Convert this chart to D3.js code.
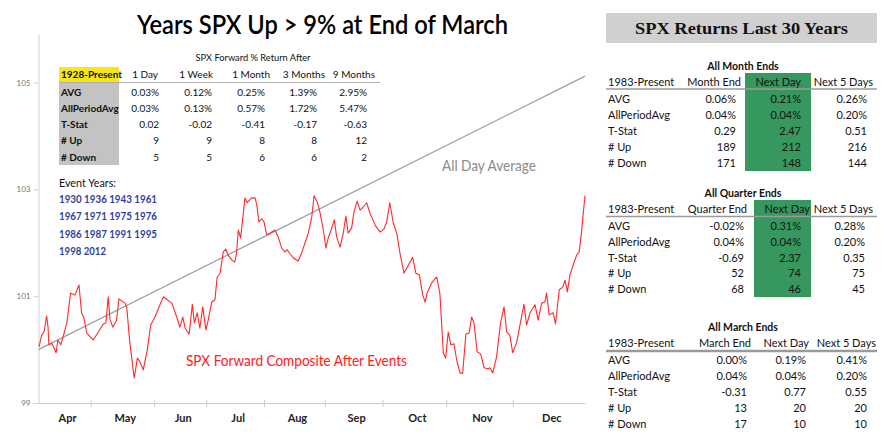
<!DOCTYPE html>
<html>
<head>
<meta charset="utf-8">
<script src="https://cdn.jsdelivr.net/npm/d3@7/dist/d3.min.js"></script>
<style>
  body { margin: 0; background: #fff; }
  text { font-family: Lato, "Open Sans", sans-serif; }
</style>
</head>
<body>
<script>
var svgWidth = 888;
var svgHeight = 447;

// ---- chart data ----
var months = ["Apr", "May", "Jun", "Jul", "Aug", "Sep", "Oct", "Nov", "Dec"];
var monthBreaks = [0, 18, 40, 58, 78, 99, 119, 141, 164, 189]; // trading-day index of month boundaries
var yTicks = [99, 101, 103, 105];

var compDays = [0.2, 1.1, 1.9, 2.8, 3.3, 3.6, 4.6, 6.1, 6.7, 7.7, 8.5, 9.8, 11.1, 12.6, 14.0, 14.9, 15.7, 16.7,
    18.9, 20.7, 22.4, 23.3, 24.1, 24.7, 25.7, 27.0, 27.8, 29.9, 30.5, 31.6, 33.1, 34.2, 35.1, 36.2, 37.6, 38.8,
    40.3, 42.0, 43.2, 46.1, 47.8, 48.9, 49.9, 50.7, 52.1, 53.2, 53.9, 54.9, 55.8, 56.8, 57.9, 58.7, 59.9, 61.0,
    61.8, 62.8, 63.9, 64.8, 65.6, 66.8, 67.9, 68.5, 69.1, 69.9, 71.4, 72.2, 73.7, 74.9, 75.5, 76.2, 77.2, 78.0,
    78.9, 80.0, 81.8, 82.9, 84.1, 85.2, 86.0, 87.0, 88.1, 89.8, 91.0, 92.2, 93.3, 94.5, 95.3, 96.4, 97.3, 98.5,
    99.4, 100.2, 101.4, 102.3, 103.1, 104.3, 105.4, 106.3, 107.1, 108.3, 109.1, 110.2, 111.2, 112.3, 113.5, 114.6,
    116.4, 118.1, 119.5, 120.4, 121.5, 122.7, 123.9, 125.0, 126.4, 127.9, 129.4, 130.5, 131.7, 132.9, 133.7, 134.4,
    136.0, 137.7, 138.8, 140.0, 140.8, 141.7, 142.6, 143.7, 144.6, 145.8, 146.7, 147.8, 148.9, 149.8, 150.6, 151.7,
    152.9, 154.1, 155.5, 156.1, 157.1, 158.4, 159.8, 161.0, 161.9, 163.0, 164.0, 165.4, 166.5, 167.9, 168.8, 170.0,
    171.7, 172.8, 174.0, 175.1, 175.7, 176.6, 178.0, 178.8, 180.1, 181.3, 182.1, 182.9, 183.8, 184.9, 186.1, 187.0,
    187.8, 188.4, 189.0];
var compValues = [100.05, 100.27, 100.33, 100.63, 100.42, 100.09, 100.12, 99.94, 100.18, 100.09, 100.24, 100.50,
    101.06, 101.02, 101.21, 100.69, 100.59, 100.31, 100.18, 100.33, 100.48, 100.50, 100.99, 100.57, 100.42, 100.55,
    100.95, 100.87, 100.80, 100.12, 99.47, 99.84, 99.77, 99.62, 99.99, 100.46, 100.61, 100.84, 100.99, 100.87,
    100.61, 100.42, 100.61, 100.40, 100.29, 100.85, 100.50, 100.69, 100.40, 100.80, 100.37, 100.55, 100.89, 100.93,
    101.36, 101.43, 101.83, 101.88, 101.77, 101.68, 101.64, 101.81, 102.24, 102.09, 102.84, 102.75, 102.84, 102.84,
    102.71, 102.39, 102.45, 102.39, 102.15, 102.18, 102.24, 102.11, 101.90, 101.83, 101.87, 101.79, 101.72, 101.66,
    101.81, 102.00, 102.18, 102.48, 102.88, 102.76, 102.58, 102.24, 101.90, 102.09, 102.28, 102.43, 102.11, 101.92,
    102.18, 102.50, 102.18, 102.28, 102.58, 102.78, 102.61, 102.67, 102.75, 102.56, 102.33, 102.20, 102.26, 102.39,
    102.75, 102.37, 102.18, 101.81, 101.43, 101.58, 101.73, 101.43, 101.40, 101.02, 100.89, 101.06, 101.25, 101.36,
    101.06, 99.94, 99.84, 100.33, 100.09, 100.11, 99.81, 99.56, 99.56, 100.29, 100.31, 100.61, 100.50, 99.96,
    99.92, 99.66, 99.64, 99.66, 99.56, 99.86, 100.50, 100.80, 100.33, 100.27, 99.94, 100.14, 100.46, 100.85,
    100.46, 100.69, 100.84, 100.55, 100.87, 100.89, 101.06, 100.65, 100.69, 100.48, 101.12, 101.17, 101.30, 101.08,
    101.40, 101.58, 101.77, 101.83, 102.20, 102.56, 102.88];

var avgDays = [0, 189];
var avgValues = [100.0, 105.12];

var eventYears = ["1930 1936 1943 1961", "1967 1971 1975 1976", "1986 1987 1991 1995", "1998 2012"];

// ---- table data ----
var rowLabels = ["AVG", "AllPeriodAvg", "T-Stat", "# Up", "# Down"];

var fwdCols = ["1 Day", "1 Week", "1 Month", "3 Months", "9 Months"];
var fwdVals = [
    ["0.03%", "0.12%", "0.25%", "1.39%", "2.95%"],
    ["0.03%", "0.13%", "0.57%", "1.72%", "5.47%"],
    ["0.02", "-0.02", "-0.41", "-0.17", "-0.63"],
    ["9", "9", "8", "8", "12"],
    ["5", "5", "6", "6", "2"]
];

var monthCols = ["Month End", "Next Day", "Next 5 Days"];
var monthVals = [
    ["0.06%", "0.21%", "0.26%"],
    ["0.04%", "0.04%", "0.20%"],
    ["0.29", "2.47", "0.51"],
    ["189", "212", "216"],
    ["171", "148", "144"]
];

var quarterCols = ["Quarter End", "Next Day", "Next 5 Days"];
var quarterVals = [
    ["-0.02%", "0.31%", "0.28%"],
    ["0.04%", "0.04%", "0.20%"],
    ["-0.69", "2.37", "0.35"],
    ["52", "74", "75"],
    ["68", "46", "45"]
];

var marchCols = ["March End", "Next Day", "Next 5 Days"];
var marchVals = [
    ["0.00%", "0.19%", "0.41%"],
    ["0.04%", "0.04%", "0.20%"],
    ["-0.31", "0.77", "0.55"],
    ["13", "20", "20"],
    ["17", "10", "10"]
];

var svg = d3.select("body")
    .append("svg")
    .attr("width", svgWidth)
    .attr("height", svgHeight);

// ---- left chart ----
var plot = { left: 38.5, right: 585, top: 34.5, bottom: 403 };

var xScale = d3.scaleLinear()
    .domain([0, 189])
    .range([plot.left, plot.right]);

var yScale = d3.scaleLinear()
    .domain([99, 105.9])
    .range([plot.bottom, plot.top]);

svg.append("text")
    .attr("x", 137)
    .attr("y", 34)
    .attr("textLength", 371)
    .attr("lengthAdjust", "spacingAndGlyphs")
    .style("font-size", "26px")
    .style("font-weight", "600")
    .style("fill", "#000")
    .text("Years SPX Up > 9% at End of March");

// y axis
var yAxis = svg.append("g")
    .attr("transform", `translate(${plot.left}, 0)`)
    .call(d3.axisLeft(yScale).tickValues(yTicks).tickFormat(d3.format("d"))
        .tickSize(5).tickSizeOuter(0).tickPadding(3));
yAxis.select(".domain").attr("stroke", "#c9cfd9");
yAxis.selectAll(".tick line").attr("stroke", "#c9cfd9");
yAxis.selectAll(".tick text")
    .style("font-size", "8px")
    .style("fill", "#777")
    .style("font-family", "Lato, sans-serif");

// x axis (month boundaries)
var xAxis = svg.append("g")
    .attr("transform", `translate(0, ${plot.bottom})`)
    .call(d3.axisBottom(xScale).tickValues(monthBreaks.slice(1, -1)).tickFormat("").tickSize(4).tickSizeOuter(0));
xAxis.select(".domain").attr("stroke", "#c9cfd9");
xAxis.selectAll(".tick line").attr("stroke", "#c9cfd9").attr("y1", -3);

svg.append("g").selectAll("text")
    .data(months)
    .enter()
    .append("text")
    .attr("x", (d, i) => xScale((monthBreaks[i] + monthBreaks[i + 1]) / 2) + 3)
    .attr("y", 422)
    .attr("text-anchor", "middle")
    .style("font-size", "11px")
    .style("font-weight", "bold")
    .style("fill", "#222")
    .text(d => d);

// lines
var avgLine = d3.line()
    .x(d => xScale(d[0]))
    .y(d => yScale(d[1]));

svg.append("path")
    .datum(d3.zip(avgDays, avgValues))
    .attr("d", avgLine)
    .attr("fill", "none")
    .attr("stroke", "#9a9fa6")
    .attr("stroke-width", 1.2);

svg.append("path")
    .datum(d3.zip(compDays, compValues))
    .attr("d", avgLine)
    .attr("fill", "none")
    .attr("stroke", "#ff2a2a")
    .attr("stroke-width", 1.1)
    .attr("stroke-linejoin", "round");

svg.append("text")
    .attr("x", 442)
    .attr("y", 171)
    .attr("textLength", 94)
    .attr("lengthAdjust", "spacingAndGlyphs")
    .style("font-size", "15px")
    .style("fill", "#8c8c8c")
    .text("All Day Average");

svg.append("text")
    .attr("x", 186)
    .attr("y", 366)
    .attr("textLength", 221)
    .attr("lengthAdjust", "spacingAndGlyphs")
    .style("font-size", "15px")
    .style("fill", "#ff2020")
    .text("SPX Forward Composite After Events");

// event years
svg.append("text")
    .attr("x", 59)
    .attr("y", 187)
    .attr("textLength", 57)
    .attr("lengthAdjust", "spacingAndGlyphs")
    .style("font-size", "12px")
    .style("fill", "#111")
    .text("Event Years:");

svg.append("g").selectAll("text")
    .data(eventYears)
    .enter()
    .append("text")
    .attr("x", 59)
    .attr("y", (d, i) => 203 + i * 17.3)
    .attr("textLength", d => d.length > 10 ? 98 : 47)
    .attr("lengthAdjust", "spacingAndGlyphs")
    .style("font-size", "11.5px")
    .style("font-weight", "bold")
    .style("fill", "#2f3f9e")
    .text(d => d);

// forward return table inside the chart
var fwd = svg.append("g");
var fwdRowY = [96, 112, 128, 144, 161];
var fwdColHead = [158, 213, 270, 325, 375];
var fwdColVal = [159, 212, 265, 317, 367];

fwd.append("text")
    .attr("x", 253)
    .attr("y", 61)
    .attr("text-anchor", "middle")
    .attr("textLength", 115)
    .attr("lengthAdjust", "spacingAndGlyphs")
    .style("font-size", "9.5px")
    .style("fill", "#111")
    .text("SPX Forward % Return After");

fwd.append("rect").attr("x", 59).attr("y", 67).attr("width", 60).attr("height", 15).attr("fill", "#f7e717");
fwd.append("rect").attr("x", 59).attr("y", 83).attr("width", 60).attr("height", 82).attr("fill", "#c3c3c3");
fwd.append("line").attr("x1", 59).attr("x2", 380).attr("y1", 82.5).attr("y2", 82.5)
    .attr("stroke", "#b0b0b0").attr("stroke-width", 1);

fwd.append("text")
    .attr("x", 61).attr("y", 78)
    .style("font-size", "10px").style("font-weight", "bold").style("fill", "#111")
    .text("1928-Present");

fwd.selectAll(".fh")
    .data(fwdCols)
    .enter()
    .append("text")
    .attr("x", (d, i) => fwdColHead[i])
    .attr("y", 78)
    .attr("text-anchor", "end")
    .style("font-size", "10px")
    .style("fill", "#111")
    .text(d => d);

fwd.selectAll(".fr")
    .data(rowLabels)
    .enter()
    .append("text")
    .attr("x", 61)
    .attr("y", (d, i) => fwdRowY[i])
    .style("font-size", "10px")
    .style("font-weight", "bold")
    .style("fill", "#111")
    .text(d => d);

fwdVals.forEach(function (row, r) {
    fwd.selectAll(null)
        .data(row)
        .enter()
        .append("text")
        .attr("x", (d, i) => fwdColVal[i])
        .attr("y", fwdRowY[r])
        .attr("text-anchor", "end")
        .style("font-size", "10px")
        .style("fill", "#111")
        .text(d => d);
});

// ---- right side tables ----
svg.append("rect").attr("x", 606).attr("y", 13).attr("width", 271).attr("height", 30).attr("fill", "#d0d0d0");
svg.append("text")
    .attr("x", 635)
    .attr("y", 34)
    .attr("textLength", 213)
    .attr("lengthAdjust", "spacingAndGlyphs")
    .style("font-family", "'Liberation Serif', 'DejaVu Serif', serif")
    .style("font-size", "17px")
    .style("font-weight", "bold")
    .style("fill", "#111")
    .text("SPX Returns Last 30 Years");

function drawTable(t) {
    var g = svg.append("g");
    if (t.green) {
        g.append("rect")
            .attr("x", t.green[0]).attr("y", t.green[1])
            .attr("width", t.green[2]).attr("height", t.green[3])
            .attr("fill", "#37985f");
    }
    g.append("text")
        .attr("x", 743).attr("y", t.titleY)
        .attr("text-anchor", "middle")
        .style("font-size", "10.5px").style("font-weight", "bold").style("fill", "#111")
        .text(t.title);
    g.append("line")
        .attr("x1", 606).attr("x2", 877).attr("y1", t.lineY).attr("y2", t.lineY)
        .attr("stroke", "#9a9a9a").attr("stroke-width", t.lineW);
    g.append("text")
        .attr("x", 608).attr("y", t.headY)
        .style("font-size", "11px").style("fill", "#111")
        .text("1983-Present");
    g.selectAll(".h")
        .data(t.cols)
        .enter()
        .append("text")
        .attr("x", (d, i) => t.headX[i])
        .attr("y", t.headY)
        .attr("text-anchor", "end")
        .style("font-size", "11px").style("fill", "#111")
        .text(d => d);
    g.selectAll(".r")
        .data(rowLabels)
        .enter()
        .append("text")
        .attr("x", 608)
        .attr("y", (d, i) => t.rowY + i * t.rowStep)
        .style("font-size", "11px").style("fill", "#111")
        .text(d => d);
    t.vals.forEach(function (row, r) {
        g.selectAll(null)
            .data(row)
            .enter()
            .append("text")
            .attr("x", (d, i) => t.valX[i])
            .attr("y", t.rowY + r * t.rowStep)
            .attr("text-anchor", "end")
            .style("font-size", "11px").style("fill", "#111")
            .text(d => d);
    });
}

drawTable({
    title: "All Month Ends", titleY: 70, headY: 86, lineY: 89, lineW: 1.5,
    rowY: 103, rowStep: 16, cols: monthCols, vals: monthVals,
    headX: [741, 801, 873], valX: [736, 801, 867],
    green: [745, 73, 66, 98]
});

drawTable({
    title: "All Quarter Ends", titleY: 197, headY: 213, lineY: 216.5, lineW: 1.5,
    rowY: 230, rowStep: 15.8, cols: quarterCols, vals: quarterVals,
    headX: [747, 810, 873], valX: [744, 801, 865],
    green: [754, 200, 57, 97]
});

drawTable({
    title: "All March Ends", titleY: 331, headY: 347, lineY: 351, lineW: 2.5,
    rowY: 364, rowStep: 16, cols: marchCols, vals: marchVals,
    headX: [751, 809, 876], valX: [747, 806, 867]
});
</script>
</body>
</html>
